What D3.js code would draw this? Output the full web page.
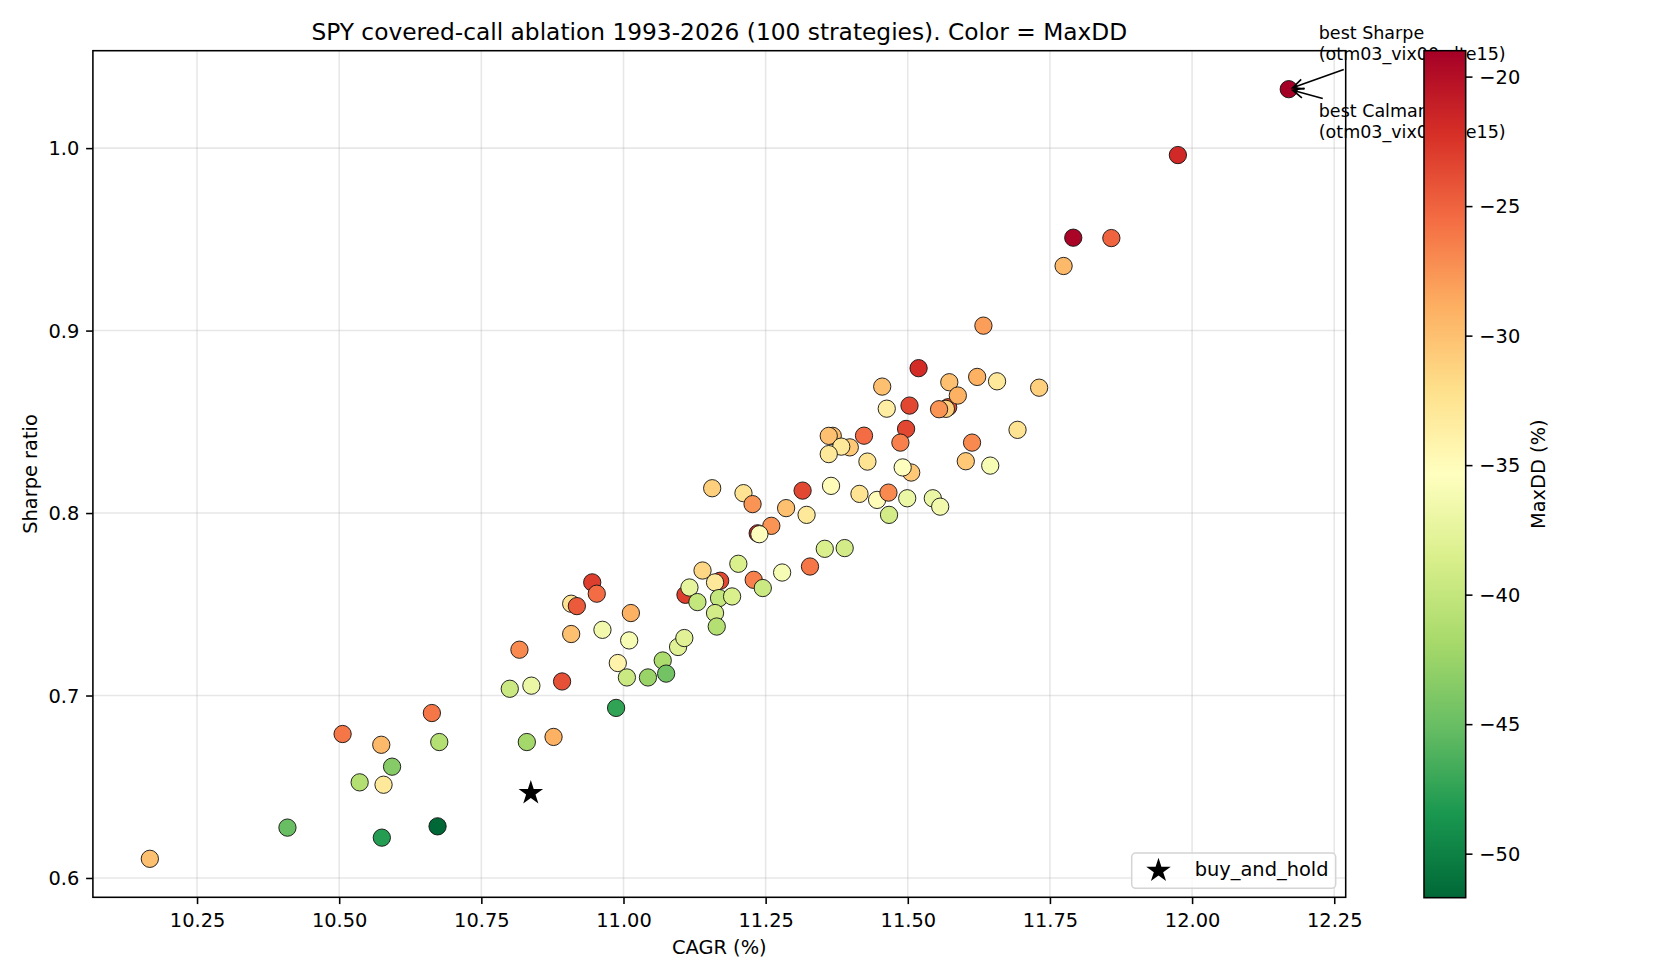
<!DOCTYPE html>
<html>
<head>
<meta charset="utf-8">
<script src="https://cdn.jsdelivr.net/npm/d3@7"></script>
<style>
  body { margin: 0; background: #fff; }
  svg text { font-family: "DejaVu Sans", sans-serif; fill: #000; }
</style>
</head>
<body>
<script>
// 100 strategies: CAGR (%), Sharpe ratio, MaxDD (%).
// points drawn first sit underneath their neighbours.
var cagr = [
  11.236, 11.170, 11.109, 10.908, 11.571, 11.567, 11.506, 11.368, 11.398,
  10.167, 10.409, 10.575, 10.673, 10.506, 10.574, 10.593, 10.536, 10.578, 10.663,
  10.676, 10.830, 10.877, 10.800, 10.838, 10.892, 10.987, 10.817, 10.908, 10.963,
  11.010, 10.990, 11.006,
  11.156, 11.211, 11.227, 11.315, 11.286, 11.322, 11.260, 11.239, 11.202, 11.139,
  11.161, 11.116, 11.130, 11.168, 11.191, 11.161, 11.164, 11.229, 11.245, 11.279,
  11.328, 10.945, 10.953, 10.918, 11.013, 11.043, 11.069, 11.075, 11.096, 11.107,
  11.633, 11.519, 11.455, 11.573, 11.622, 11.657, 11.731, 11.588, 11.463, 11.503,
  11.555, 11.693, 11.497, 11.487, 11.613, 11.602, 11.645, 11.491, 11.423, 11.361,
  11.383, 11.361, 11.429, 11.365, 11.415, 11.446, 11.466, 11.499, 11.544, 11.557,
  11.467, 11.354, 11.389,
  11.975, 11.791, 11.858, 11.774, 12.170
];
var sharpe = [
  0.7889, 0.7629, 0.7552, 0.7503, 0.8580, 0.8571, 0.8222, 0.8423, 0.8360,
  0.6105, 0.6276, 0.6221, 0.6283, 0.6789, 0.6730, 0.6610, 0.6524, 0.6511, 0.6904,
  0.6745, 0.6745, 0.6773, 0.7037, 0.7054, 0.7077, 0.6932, 0.7251, 0.7337, 0.7360,
  0.7302, 0.7178, 0.7099,
  0.8136, 0.8109, 0.8049, 0.8123, 0.8027, 0.7990, 0.7930, 0.7884, 0.7722, 0.7685,
  0.7620, 0.7592, 0.7512, 0.7534, 0.7543, 0.7452, 0.7378, 0.7634, 0.7589, 0.7674,
  0.7707, 0.7620, 0.7558, 0.7490, 0.7452, 0.7099, 0.7192, 0.7120, 0.7266, 0.7315,
  0.9027, 0.8794, 0.8693, 0.8717, 0.8746, 0.8722, 0.8687, 0.8644, 0.8572, 0.8589,
  0.8569, 0.8456, 0.8461, 0.8386, 0.8386, 0.8284, 0.8260, 0.8250, 0.8424, 0.8423,
  0.8364, 0.8323, 0.8282, 0.8149, 0.8105, 0.8072, 0.8112, 0.8081, 0.8081, 0.8035,
  0.7990, 0.7804, 0.7808,
  0.9962, 0.9509, 0.9507, 0.9354, 1.0323
];
var maxdd = [
  -21.5, -23.5, -23, -32.5, -24, -31, -30.5, -30, -30.5,
  -30, -45, -48, -51.7, -26, -29.5, -43.5, -41, -33, -26,
  -41, -42, -29, -39.5, -37, -24, -47.5, -27, -30, -36.5,
  -36, -34, -39.5,
  -31, -32.5, -27.5, -23.5, -30, -33, -27.5, -35.5, -38.5, -31.5,
  -33, -37.5, -40, -40, -38.5, -39, -41, -26.5, -39.5, -36,
  -26, -23, -25.5, -24.5, -29, -42.5, -41.5, -44.5, -38, -38,
  -28, -22, -30, -30, -29, -33, -31, -29, -33.5, -23.5,
  -27.5, -32.5, -23.5, -26.5, -27, -30.5, -36, -35.5, -25.5, -30,
  -33, -33, -32.5, -35, -32.5, -35, -27, -37, -37, -36.5,
  -39, -38.5, -39,
  -21.8, -19.3, -25, -29.5, -19.0
];

var buyHold = {name: "buy_and_hold", cagr: 10.837, sharpe: 0.6466};
var bestLabels = ["best Sharpe", "best Calmar"];
var bestName = "(otm03_vix00_dte15)";

var xTicks = [10.25, 10.5, 10.75, 11.0, 11.25, 11.5, 11.75, 12.0, 12.25];
var yTicks = [0.6, 0.7, 0.8, 0.9, 1.0];
var cbTicks = [-20, -25, -30, -35, -40, -45, -50];

// matplotlib RdYlGn, used reversed
var rdylgn = ["#a50026", "#d73027", "#f46d43", "#fdae61", "#fee08b", "#ffffbf",
              "#d9ef8b", "#a6d96a", "#66bd63", "#1a9850", "#006837"];

var plot = {left: 92.9, right: 1345.7, top: 50.7, bottom: 897.3};
var cb = {left: 1424, right: 1465.7, top: 50.7, bottom: 897.7};
var fs = 19.4;

var svg = d3.select("body")
  .append("svg")
    .attr("width", 1680)
    .attr("height", 980);

function padded(ext) {
  var p = (ext[1] - ext[0]) * 0.05;
  return [ext[0] - p, ext[1] + p];
}

var x = d3.scaleLinear().domain(padded(d3.extent(cagr))).range([plot.left, plot.right]);
var y = d3.scaleLinear().domain(padded(d3.extent(sharpe))).range([plot.bottom, plot.top]);
var dd = d3.extent(maxdd);
var cmap = d3.piecewise(d3.interpolateRgb, rdylgn);
function color(v) { return cmap((dd[1] - v) / (dd[1] - dd[0])); }

// grid
svg.append("g").selectAll("line")
    .data(xTicks)
  .enter().append("line")
    .attr("x1", function(d) { return x(d); })
    .attr("x2", function(d) { return x(d); })
    .attr("y1", plot.top)
    .attr("y2", plot.bottom)
    .attr("stroke", "#b0b0b0")
    .attr("stroke-opacity", 0.3)
    .attr("stroke-width", 1.56);
svg.append("g").selectAll("line")
    .data(yTicks)
  .enter().append("line")
    .attr("x1", plot.left)
    .attr("x2", plot.right)
    .attr("y1", function(d) { return y(d); })
    .attr("y2", function(d) { return y(d); })
    .attr("stroke", "#b0b0b0")
    .attr("stroke-opacity", 0.3)
    .attr("stroke-width", 1.56);

// strategies
svg.append("g").selectAll("circle")
    .data(d3.range(cagr.length))
  .enter().append("circle")
    .attr("cx", function(i) { return x(cagr[i]); })
    .attr("cy", function(i) { return y(sharpe[i]); })
    .attr("r", 8.65)
    .style("fill", function(i) { return color(maxdd[i]); })
    .attr("stroke", "#111")
    .attr("stroke-width", 0.9);

var star = d3.symbol().type(d3.symbolStar).size(187);
svg.append("path")
    .attr("d", star)
    .attr("transform", "translate(" + x(buyHold.cagr) + "," + y(buyHold.sharpe) + ")")
    .attr("fill", "#000");

// axes
var xAxis = svg.append("g")
    .attr("transform", "translate(0," + plot.bottom + ")")
    .call(d3.axisBottom(x).tickValues(xTicks).tickFormat(d3.format(".2f")).tickSize(6.8).tickPadding(6.8));
var yAxis = svg.append("g")
    .attr("transform", "translate(" + plot.left + ",0)")
    .call(d3.axisLeft(y).tickValues(yTicks).tickFormat(d3.format(".1f")).tickSize(6.8).tickPadding(6.8));
[xAxis, yAxis].forEach(function(g) {
  g.attr("font-size", fs).attr("font-family", "DejaVu Sans");
  g.select(".domain").remove();
  g.selectAll("line").attr("stroke", "#000").attr("stroke-width", 1.56);
});
xAxis.selectAll("text").attr("dy", "0.83em");
yAxis.selectAll("text").attr("dy", "0.35em");

svg.append("rect")
    .attr("x", plot.left)
    .attr("y", plot.top)
    .attr("width", plot.right - plot.left)
    .attr("height", plot.bottom - plot.top)
    .attr("fill", "none")
    .attr("stroke", "#000")
    .attr("stroke-width", 1.56);

svg.append("text")
    .attr("x", (plot.left + plot.right) / 2)
    .attr("y", 39.5)
    .attr("text-anchor", "middle")
    .attr("font-size", 23.3)
    .text("SPY covered-call ablation 1993-2026 (100 strategies). Color = MaxDD");
svg.append("text")
    .attr("x", (plot.left + plot.right) / 2)
    .attr("y", 954)
    .attr("text-anchor", "middle")
    .attr("font-size", fs)
    .text("CAGR (%)");
svg.append("text")
    .attr("transform", "translate(36.5," + (plot.top + plot.bottom) / 2 + ") rotate(-90)")
    .attr("text-anchor", "middle")
    .attr("font-size", fs)
    .text("Sharpe ratio");

// annotations on the best point
var ib = d3.maxIndex(sharpe);
var bx = x(cagr[ib]), by = y(sharpe[ib]);
var notes = [
  {label: bestLabels[0], dx: 30, dy: -50, ax: 55, ay: -19.7},
  {label: bestLabels[1], dx: 30, dy: 27.7, ax: 34, ay: 9.3}
];
notes.forEach(function(n) {
  var x0 = bx + n.ax, y0 = by + n.ay;
  var a = Math.atan2(by - y0, bx - x0);
  var tx = bx - 4 * Math.cos(a), ty = by - 4 * Math.sin(a);
  var hl = 11, hw = 5;
  var bxp = tx - hl * Math.cos(a), byp = ty - hl * Math.sin(a);
  svg.append("path")
      .attr("d", "M" + x0 + "," + y0 + "L" + tx + "," + ty +
        "M" + (bxp - hw * Math.sin(a)) + "," + (byp + hw * Math.cos(a)) +
        "L" + tx + "," + ty +
        "L" + (bxp + hw * Math.sin(a)) + "," + (byp - hw * Math.cos(a)))
      .attr("fill", "none")
      .attr("stroke", "#000")
      .attr("stroke-width", 1.6);
  var t = svg.append("text")
      .attr("x", bx + n.dx)
      .attr("y", by + n.dy)
      .attr("font-size", 17.5);
  t.append("tspan").attr("x", bx + n.dx).text(n.label);
  t.append("tspan").attr("x", bx + n.dx).attr("dy", 21).text(bestName);
});

// legend
var leg = {right: plot.right - 10, bottom: plot.bottom - 9, w: 204, h: 35.3};
svg.append("rect")
    .attr("x", leg.right - leg.w)
    .attr("y", leg.bottom - leg.h)
    .attr("width", leg.w)
    .attr("height", leg.h)
    .attr("rx", 4)
    .attr("fill", "#fff")
    .attr("fill-opacity", 0.8)
    .attr("stroke", "#d4d4d4")
    .attr("stroke-width", 1.5);
svg.append("path")
    .attr("d", star)
    .attr("transform", "translate(" + (leg.right - leg.w + 26.8) + "," + (leg.bottom - leg.h / 2) + ")")
    .attr("fill", "#000");
svg.append("text")
    .attr("x", leg.right - leg.w + 63)
    .attr("y", leg.bottom - leg.h / 2 + 5.5)
    .attr("font-size", fs)
    .text(buyHold.name);

// colorbar
var grad = svg.append("defs").append("linearGradient")
    .attr("id", "cbgrad")
    .attr("x1", 0).attr("y1", 0).attr("x2", 0).attr("y2", 1);
grad.selectAll("stop")
    .data(rdylgn)
  .enter().append("stop")
    .attr("offset", function(d, i) { return i / (rdylgn.length - 1); })
    .attr("stop-color", function(d) { return d; });

svg.append("rect")
    .attr("x", cb.left)
    .attr("y", cb.top)
    .attr("width", cb.right - cb.left)
    .attr("height", cb.bottom - cb.top)
    .attr("fill", "url(#cbgrad)")
    .attr("stroke", "#000")
    .attr("stroke-width", 1.56);

var c = d3.scaleLinear().domain(dd).range([cb.bottom, cb.top]);
var cAxis = svg.append("g")
    .attr("transform", "translate(" + cb.right + ",0)")
    .call(d3.axisRight(c).tickValues(cbTicks).tickFormat(d3.format("d")).tickSize(6.8).tickPadding(6.8));
cAxis.attr("font-size", fs).attr("font-family", "DejaVu Sans");
cAxis.select(".domain").remove();
cAxis.selectAll("line").attr("stroke", "#000").attr("stroke-width", 1.56);
cAxis.selectAll("text").attr("dy", "0.35em");

svg.append("text")
    .attr("transform", "translate(1545," + (cb.top + cb.bottom) / 2 + ") rotate(-90)")
    .attr("text-anchor", "middle")
    .attr("font-size", fs)
    .text("MaxDD (%)");
</script>
</body>
</html>
